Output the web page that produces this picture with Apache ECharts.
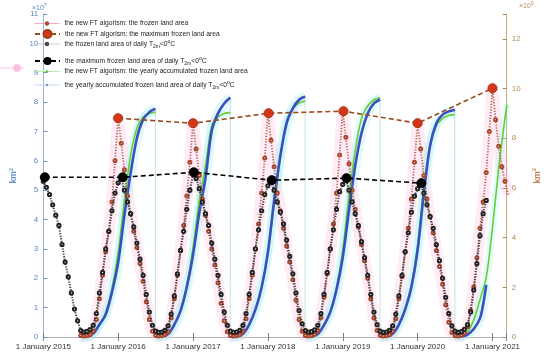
<!DOCTYPE html>
<html><head><meta charset="utf-8">
<script src="https://cdn.jsdelivr.net/npm/echarts@6/dist/echarts.min.js"></script>
<style>html,body{margin:0;padding:0;background:#fff}#c{width:550px;height:355px}</style>
</head><body><div id="c"></div><script>
// ---- data (left axis: x10^7 km2, right axis: x10^9 km2) ----
const yearTicks = [2015, 2016, 2017, 2018, 2019, 2020, 2021];
// new FT algorism frozen land area, every half month from 1 July 2015
const redStart = 2015.5;
const redArea = [
  0.05,0.03,0.04,0.08,0.2,0.6,1.3,2.1,2.9,3.6,4.6,6.0,
  7.45,6.6,5.7,4.8,4.2,3.6,3.05,2.5,1.9,1.2,0.6,0.2,0.06,0.03,0.04,0.08,0.18,0.65,1.3,2.1,2.95,3.8,4.8,5.95,
  7.28,6.4,5.5,4.7,4.15,3.6,3.0,2.45,1.85,1.15,0.55,0.18,0.05,0.03,0.04,0.08,0.2,0.62,1.3,2.1,3.0,3.85,4.9,6.1,
  7.62,6.7,5.8,4.9,4.3,3.7,3.1,2.55,1.95,1.25,0.6,0.2,0.05,0.03,0.04,0.09,0.22,0.66,1.35,2.15,3.0,3.85,4.9,6.2,
  7.69,6.8,5.9,5.0,4.35,3.75,3.15,2.6,2.0,1.3,0.65,0.22,0.06,0.03,0.04,0.08,0.2,0.62,1.3,2.05,2.9,3.7,4.7,5.95,
  7.28,6.4,5.5,4.7,4.1,3.55,2.95,2.4,1.8,1.1,0.5,0.15,0.04,0.03,0.06,0.14,0.35,0.9,1.7,2.7,3.7,4.6,5.6,7.0,
  8.47,7.4,6.5,5.8,5.3,4.85
];
// frozen land area of daily T2m<0C, every half month from 1 January 2015
const blackStart = 2015.0;
const blackArea = [
  5.3,5.1,4.85,4.5,4.15,3.8,3.15,2.55,2.05,1.5,0.95,0.55,0.22,0.17,0.19,0.25,0.4,0.8,1.5,2.2,3.0,3.6,4.3,4.9,
  5.25,5.4,5.0,4.6,4.2,3.75,3.2,2.65,2.1,1.45,0.85,0.4,0.2,0.16,0.17,0.23,0.38,0.78,1.4,2.15,2.95,3.6,4.35,5.0,
  5.55,5.4,5.05,4.6,4.2,3.8,3.2,2.65,2.1,1.45,0.85,0.4,0.2,0.16,0.17,0.23,0.4,0.8,1.45,2.2,3.0,3.65,4.3,4.85,
  5.15,5.3,5.0,4.6,4.25,3.85,3.3,2.75,2.15,1.5,0.9,0.45,0.22,0.17,0.18,0.24,0.4,0.8,1.45,2.2,3.0,3.65,4.35,4.95,
  5.2,5.38,5.0,4.6,4.2,3.8,3.25,2.7,2.1,1.45,0.85,0.42,0.2,0.16,0.17,0.23,0.38,0.78,1.4,2.1,2.9,3.55,4.25,4.8,
  5.05,5.2,4.9,4.5,4.1,3.7,3.15,2.6,2.0,1.35,0.8,0.38,0.2,0.16,0.18,0.26,0.42,0.85,1.6,2.5,3.45,4.2,4.65
];
const redMaxX = [2016.0, 2017.0, 2018.01, 2019.01, 2020.0, 2021.0];
const redMaxV = [7.45, 7.28, 7.62, 7.69, 7.28, 8.47];
const blackMaxX = [2015.02, 2016.06, 2017.01, 2018.05, 2019.05, 2020.05];
const blackMaxV = [5.44, 5.44, 5.61, 5.34, 5.41, 5.24];
// yearly accumulated area, seasons starting 1 July; month offsets from 1 July
const seasonStarts = [2015, 2016, 2017, 2018, 2019, 2020];
const monthsFull = [0,1,2,3,4,5,6,7,8,9,10,11,11.97];
const monthsGreenLast = [0,1,2,3,4,5,6,7,8,8.33];
const monthsBlueLast = [0,1,2,3,4,4.5,5];
const blueAcc = [
  [0,0.03,0.14,0.5,0.9,1.8,3.0,4.9,6.6,8.0,8.75,9.05,9.19],
  [0,0.03,0.12,0.5,1.05,2.0,3.3,5.0,6.4,8.3,9.0,9.4,9.64],
  [0,0.03,0.13,0.5,1.1,2.0,3.4,5.5,7.3,8.6,9.2,9.55,9.68],
  [0,0.03,0.12,0.48,1.0,1.9,3.2,5.1,6.9,8.2,9.0,9.4,9.56],
  [0,0.03,0.13,0.5,1.1,2.0,3.5,5.8,7.7,8.6,8.95,9.08,9.15],
  [0,0.02,0.1,0.32,0.75,1.3,2.1]
];
const greenAcc = [
  [0,0.03,0.13,0.5,1.0,1.95,3.4,5.5,7.3,8.4,8.85,9.0,9.05],
  [0,0.03,0.13,0.5,1.1,2.1,3.6,5.5,6.9,8.5,8.85,9.0,9.03],
  [0,0.03,0.13,0.5,1.1,2.0,3.4,5.3,7.2,8.7,9.2,9.42,9.5],
  [0,0.03,0.13,0.5,1.05,2.0,3.5,5.7,7.5,8.8,9.3,9.55,9.64],
  [0,0.03,0.13,0.52,1.15,2.1,3.7,6.0,7.7,8.5,8.8,8.92,8.95],
  [0,0.03,0.2,0.7,1.5,2.4,4.4,6.8,8.8,9.35]
];

// ---- build ----
const FONT = 'Liberation Sans, Arial, sans-serif';
const N1 = 'the new FT algorism: the frozen land area';
const N2 = 'the new FT algorism: the maximum frozen land area';
const N3 = 'the frozen land area of daily T2m<0C';
const N4 = 'the maximum frozen land area of daily T2m<0C';
const N5 = 'the new FT algorism: the yearly accumulated frozen land area';
const N6 = 'the yearly accumulated frozen land area of daily T2m<0C';
const richName = {};
richName[N1] = '{n|' + N1 + '}';
richName[N2] = '{n|' + N2 + '}';
richName[N3] = '{n|the frozen land area of daily T}{s|2m}{n|<0}{p|o}{n|C}';
richName[N4] = '{n|the maximum frozen land area of daily T}{s|2m}{n|<0}{p|o}{n|C}';
richName[N5] = '{n|' + N5 + '}';
richName[N6] = '{n|the yearly accumulated frozen land area of daily T}{s|2m}{n|<0}{p|o}{n|C}';

function semiMonthly(start, vals) { return vals.map((v, i) => [start + i / 24, v]); }
function accData(acc, last) {
  const out = [];
  acc.forEach((vals, k) => {
    const m = vals.length === 13 ? monthsFull : last;
    vals.forEach((v, i) => out.push([seasonStarts[k] + 0.5 + m[i] / 12, v]));
    out.push([seasonStarts[k] + 0.5 + m[vals.length - 1] / 12 + 0.0001, '-']);
  });
  return out;
}
const redPts = semiMonthly(redStart, redArea);
const blackPts = semiMonthly(blackStart, blackArea);
const bluePts = accData(blueAcc, monthsBlueLast);
const greenPts = accData(greenAcc, monthsGreenLast);
const dropPts = [];
blueAcc.forEach((vals, k) => {
  if (vals.length !== 13) return;
  const xe = seasonStarts[k] + 0.5 + monthsFull[12] / 12;
  const top = Math.max(vals[12], greenAcc[k][12]);
  dropPts.push([xe, top], [xe, 0], [xe + 0.0001, '-']);
});
const redMaxPts = redMaxX.map((x, i) => [x, redMaxV[i]]);
const blackMaxPts = blackMaxX.map((x, i) => [x, blackMaxV[i]]);

const isYear = v => Math.abs(v - Math.round(v)) < 1e-6;
const FS = 6.7;
const legendRich = {
  n: { fontSize: FS, fontFamily: FONT, color: '#222', lineHeight: 10 },
  s: { fontSize: 5, fontFamily: FONT, color: '#222', lineHeight: 10, verticalAlign: 'bottom' },
  p: { fontSize: 5, fontFamily: FONT, color: '#222', lineHeight: 10, verticalAlign: 'top' }
};
function legendRow(center, itemH, item) {
  return {
    orient: 'vertical', left: 34, top: center - 5, itemWidth: 25, itemHeight: itemH, itemGap: 0,
    padding: 0, selectedMode: false,
    formatter: name => richName[name],
    textStyle: { fontFamily: FONT, fontSize: FS, rich: legendRich },
    data: [item]
  };
}

const option = {
  animation: false,
  backgroundColor: '#fff',
  grid: { left: 29, right: 32, top: 14, bottom: 18, containLabel: false },
  legend: [
    legendRow(25, 3, { name: N1, lineStyle: { color: '#f2a9c4', width: 1, type: 'solid' }, itemStyle: { color: '#a8452b', borderColor: '#a8452b' } }),
    legendRow(34, 10, { name: N2 }),
    legendRow(44, 3, { name: N3, lineStyle: { color: '#cccccc', width: 1, type: 'solid' }, itemStyle: { color: '#444', borderColor: '#444' } }),
    legendRow(61, 10, { name: N4 }),
    legendRow(73, 3, { name: N5, lineStyle: { color: '#b9ecb0', width: 1 }, itemStyle: { color: '#5bc832' } }),
    legendRow(85, 3, { name: N6, lineStyle: { color: '#bfd4f2', width: 1 }, itemStyle: { color: '#7a8ed6' } })
  ],
  xAxis: [
    {
      type: 'value', min: 2015, max: 2021.19, interval: 1, position: 'bottom',
      axisLine: { show: true, lineStyle: { color: '#9a9a9a', width: 1 } },
      axisTick: { show: true, inside: true, length: 4, lineStyle: { color: '#777' } },
      axisLabel: { fontSize: 8, fontFamily: FONT, color: '#333', margin: 6,
        formatter: v => isYear(v) ? '1 January ' + Math.round(v) : '' },
      splitLine: { show: false }
    },
    {
      type: 'value', min: 2015, max: 2021.19, interval: 1, position: 'top',
      axisLine: { show: true, lineStyle: { color: '#b5b5b5', width: 1 } },
      axisTick: { show: true, inside: true, length: 4, lineStyle: { color: '#888' } },
      axisLabel: { show: false }, splitLine: { show: false }
    }
  ],
  yAxis: [
    {
      type: 'value', min: 0, max: 11, interval: 1, position: 'left',
      axisLine: { show: true, lineStyle: { color: '#9fb3d3', width: 1 } },
      axisTick: { show: true, inside: true, length: 4, lineStyle: { color: '#6d8fc6' } },
      axisLabel: { fontSize: 8, fontFamily: FONT, color: '#5a86c8', margin: 5 },
      splitLine: { show: false },
      name: '{a|km}{b|2}', nameLocation: 'middle', nameRotate: 90, nameGap: 15,
      nameTextStyle: { rich: {
        a: { fontSize: 9, fontFamily: FONT, color: '#3d6db5', lineHeight: 12 },
        b: { fontSize: 6, fontFamily: FONT, color: '#3d6db5', lineHeight: 12, verticalAlign: 'top' } } }
    },
    {
      type: 'value', min: 0, max: 13, interval: 2, position: 'right',
      axisLine: { show: true, lineStyle: { color: '#c9a97c', width: 1 } },
      axisTick: { show: true, inside: true, length: 4, lineStyle: { color: '#b08a55' } },
      axisLabel: { fontSize: 8, fontFamily: FONT, color: '#b08d5e', margin: 5,
        formatter: v => (v > 12.5 ? '' : String(v)) },
      splitLine: { show: false },
      name: '{a|km}{b|2}', nameLocation: 'middle', nameRotate: 90, nameGap: 22,
      nameTextStyle: { rich: {
        a: { fontSize: 9, fontFamily: FONT, color: '#b35a22', lineHeight: 12 },
        b: { fontSize: 6, fontFamily: FONT, color: '#b35a22', lineHeight: 12, verticalAlign: 'top' } } }
    }
  ],
  graphic: [
    { type: 'text', left: 32, top: 3, style: { text: '{a|×10}{b|7}', rich: {
      a: { fontSize: 7, fontFamily: FONT, fill: '#5a86c8', lineHeight: 10 },
      b: { fontSize: 5, fontFamily: FONT, fill: '#5a86c8', lineHeight: 10, verticalAlign: 'top' } } } },
    { type: 'text', left: 519, top: 1, style: { text: '{a|×10}{b|9}', rich: {
      a: { fontSize: 7, fontFamily: FONT, fill: '#b08d5e', lineHeight: 10 },
      b: { fontSize: 5, fontFamily: FONT, fill: '#b08d5e', lineHeight: 10, verticalAlign: 'top' } } } },
    { type: 'line', shape: { x1: 0, y1: 68, x2: 24, y2: 68 }, style: { stroke: 'rgba(245,160,200,0.6)', lineWidth: 1 } },
    { type: 'circle', shape: { cx: 17, cy: 68, r: 4 }, style: { fill: 'rgba(250,180,220,0.8)' } }
  ],
  series: [
    { name: 'redHalo', type: 'line', data: redPts, yAxisIndex: 0, symbol: 'none',
      lineStyle: { color: 'rgba(255,160,210,0.2)', width: 12, join: 'round' }, z: 1, silent: true },
    { name: 'blueHalo', type: 'line', data: bluePts, yAxisIndex: 1, symbol: 'none', smooth: 0.3,
      lineStyle: { color: 'rgba(160,240,245,0.3)', width: 10 }, z: 1, silent: true },
    { name: 'greenHalo', type: 'line', data: greenPts, yAxisIndex: 1, symbol: 'none', smooth: 0.3,
      lineStyle: { color: 'rgba(160,240,245,0.25)', width: 8 }, z: 1, silent: true },
    { name: 'drop', type: 'line', data: dropPts, yAxisIndex: 1, symbol: 'none',
      lineStyle: { color: '#bfe3e6', width: 1 }, z: 2, silent: true },
    { name: N5, type: 'line', data: greenPts, yAxisIndex: 1, symbol: 'circle', symbolSize: 3, showSymbol: false, smooth: 0.3,
      itemStyle: { color: '#5bc832' }, lineStyle: { color: '#64d034', width: 1.6 }, z: 3 },
    { name: N6, type: 'line', data: bluePts, yAxisIndex: 1, symbol: 'circle', symbolSize: 3, showSymbol: false, smooth: 0.3,
      itemStyle: { color: '#3c4fbf' }, lineStyle: { color: '#3c4fbf', width: 2.6 }, z: 4 },
    { name: N1, type: 'line', data: redPts, yAxisIndex: 0, symbol: 'emptyCircle', symbolSize: 3,
      itemStyle: { color: '#a8452b', borderWidth: 0.8 },
      lineStyle: { color: '#b8604a', width: 1.8, type: [1.2, 1.6] }, z: 5 },
    { name: N3, type: 'line', data: blackPts, yAxisIndex: 0, symbol: 'emptyCircle', symbolSize: 3.2,
      itemStyle: { color: '#222', borderWidth: 1 },
      lineStyle: { color: '#3a3a3a', width: 2, type: [1.2, 1.4] }, z: 6 },
    { name: N2, type: 'line', data: redMaxPts, yAxisIndex: 0, symbol: 'circle', symbolSize: 9,
      itemStyle: { color: '#d5361a', borderColor: '#9a3c12', borderWidth: 1 },
      lineStyle: { color: '#9c4a1c', width: 1.6, type: [5, 3] }, z: 8 },
    { name: N4, type: 'line', data: blackMaxPts, yAxisIndex: 0, symbol: 'circle', symbolSize: 9,
      itemStyle: { color: '#000', borderColor: '#000' },
      lineStyle: { color: '#000', width: 1.6, type: [5, 3] }, z: 8 }
  ]
};
const chart = echarts.init(document.getElementById('c'));
chart.setOption(option);
</script></body></html>
